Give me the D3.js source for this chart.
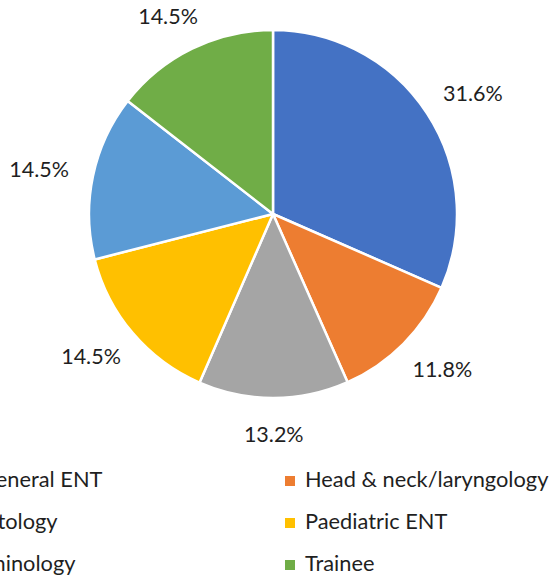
<!DOCTYPE html>
<html>
<head>
<meta charset="utf-8">
<script src="https://cdn.jsdelivr.net/npm/d3@7"></script>
<style>
  body { margin: 0; background: #fff; }
  text { font-family: Lato, "Noto Sans", sans-serif; fill: #1f1f1f; }
</style>
</head>
<body>
<div id="chart"></div>
<script>
// slice data, clockwise from 12 o'clock
var categories = ["General ENT", "Head & neck/laryngology", "Otology", "Paediatric ENT", "Rhinology", "Trainee"];
var values = [31.6, 11.8, 13.2, 14.5, 14.5, 14.5];
var colors = ["#4472C4", "#ED7D31", "#A5A5A5", "#FFC000", "#5B9BD5", "#70AD47"];

var width = 555, height = 580;
var cx = 273, cy = 214, radius = 184;

var svg = d3.select("#chart")
    .append("svg")
    .attr("width", width)
    .attr("height", height);

var data = categories.map(function(c, i) { return { name: c, value: values[i], color: colors[i] }; });

var pie = d3.pie()
    .sort(null)
    .value(d => d.value);

var arc = d3.arc()
    .innerRadius(0)
    .outerRadius(radius);

var arcs = pie(data);

var g = svg.append("g")
    .attr("transform", "translate(" + cx + "," + cy + ")");

g.selectAll("path")
    .data(arcs)
    .enter().append("path")
    .attr("d", arc)
    .attr("fill", d => d.data.color)
    .attr("stroke", "#fff")
    .attr("stroke-width", 2.5)
    .attr("stroke-linejoin", "round");

// labels outside end, pushed out by half the text box
var labelR = radius + 25;
g.selectAll("text.pct")
    .data(arcs)
    .enter().append("text")
    .attr("class", "pct")
    .attr("font-size", 21.5)
    .attr("text-anchor", "middle")
    .attr("dy", "0.35em")
    .text(d => d.data.value.toFixed(1) + "%")
    .attr("x", function(d) {
        var a = (d.startAngle + d.endAngle) / 2;
        var w = this.getComputedTextLength();
        return labelR * Math.sin(a) + (w / 2) * Math.sin(a);
    })
    .attr("y", function(d) {
        var a = (d.startAngle + d.endAngle) / 2;
        return -labelR * Math.cos(a) - 11 * Math.cos(a);
    });

// legend, two columns, left column runs off the page edge
var colX = [-40, 285], rowY = [487, 529, 571];
var legend = svg.append("g").attr("class", "legend");

var items = legend.selectAll("g")
    .data(data)
    .enter().append("g")
    .attr("transform", (d, i) => "translate(" + colX[i % 2] + "," + rowY[Math.floor(i / 2)] + ")");

items.append("rect")
    .attr("x", 0)
    .attr("y", -11)
    .attr("width", 10)
    .attr("height", 10)
    .attr("fill", d => d.color);

items.append("text")
    .attr("x", 20)
    .attr("y", 0)
    .attr("font-size", 21.8)
    .text(d => d.name);
</script>
</body>
</html>
